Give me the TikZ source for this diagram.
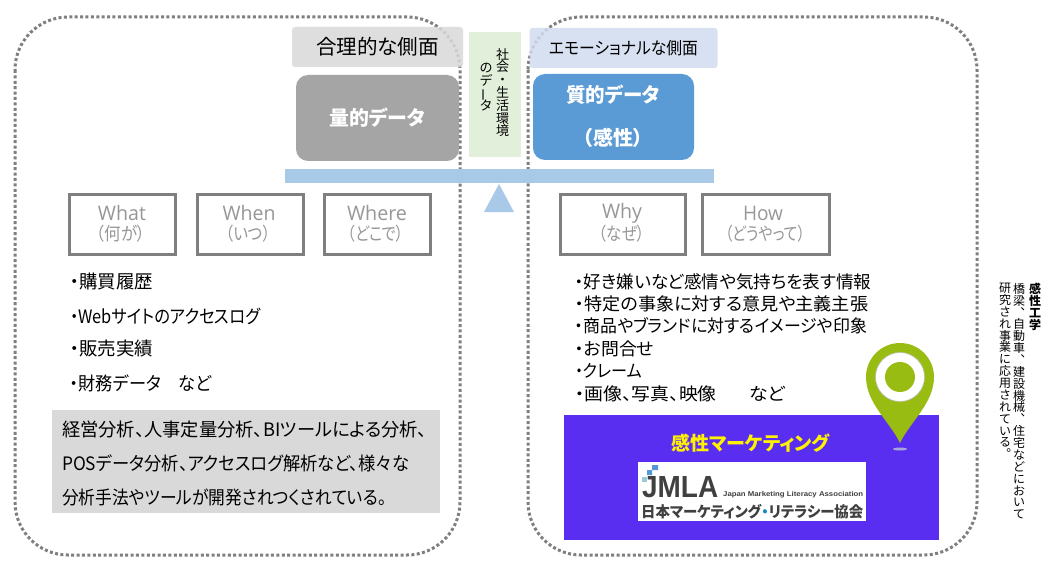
\documentclass[tikz,border=0pt]{standalone}
\usepackage{fontspec}
\usepackage{graphicx}
\setmainfont[RawFeature=+palt]{Noto Sans CJK JP}
\newfontfamily\vfont{Noto Sans CJK JP}
\newfontfamily\lat{Liberation Sans}
\newfontfamily\wlat{Open Sans}
\newcommand{\fw}[2]{\resizebox{#1pt}{\height}{#2}}
\newcommand{\vbar}{\rotatebox[origin=c]{90}{ー}}
\newcommand{\nols}{\lineskiplimit=-100pt\relax}
\definecolor{wgray}{HTML}{7F7F7F}
\definecolor{wtxt}{HTML}{979797}
\definecolor{pur}{HTML}{5A2EF0}
\definecolor{pincol}{HTML}{99BC12}
\definecolor{bar}{HTML}{A9C9E8}
\definecolor{qblue}{HTML}{5B9BD5}
\definecolor{qgrey}{HTML}{A5A5A5}
\definecolor{lgrey}{HTML}{D9D9D9}
\definecolor{lblue}{HTML}{D2DCEF}
\definecolor{lgreen}{HTML}{E2EFDA}
\definecolor{dotc}{HTML}{7F7F7F}
\tikzset{
  dotbox/.style={draw=dotc,line width=3pt,dash pattern=on 3pt off 2.4pt,rounded corners=53pt},
  wbox/.style={draw=wgray,line width=3pt,fill=white,inner sep=0pt},
  wtext/.style={text=wtxt,font=\wlat\fontsize{20}{22}\selectfont,inner sep=0pt},
  wjp/.style={text=wtxt,font=\fontsize{18}{21}\selectfont,inner sep=0pt},
  item/.style={anchor=west,inner sep=0pt,font=\fontsize{17.5}{20}\selectfont,text=black},
  itemb/.style={anchor=west,inner sep=0pt,font=\fontsize{18.5}{21}\selectfont,text=black},
  vtext/.style={anchor=north,align=center,inner sep=0pt,font=\vfont\fontsize{12}{11.87}\selectfont\nols},
  vbold/.style={anchor=north,align=center,inner sep=0pt,font=\vfont\bfseries\fontsize{12}{11.87}\selectfont\nols},
  vsoc/.style={anchor=north,align=center,inner sep=0pt,font=\vfont\fontsize{13}{12.8}\selectfont\nols},
  blk/.style={inner sep=0pt,minimum width=0pt}
}
\begin{document}
\begin{tikzpicture}[x=1pt,y=-1pt]
\useasboundingbox (0,0) rectangle (1054,572);
\fill[white] (0,0) rectangle (1054,572);
% dotted frames
\draw[dotbox] (15,17) rectangle (460,555);
\draw[dotbox] (528,17) rectangle (977,555);
% labels
\node[blk,fill=lgrey,fill opacity=.85,rounded corners=3pt,minimum width=171pt,minimum height=40pt,text opacity=1] (lgo) at (377.5,47) {\fontsize{20.5}{24}\selectfont\fw{123}{合理的な側面}};
\node[blk,fill=lblue,fill opacity=.85,rounded corners=3pt,minimum width=188pt,minimum height=40pt,text opacity=1] (emo) at (623.5,48) {\fontsize{17}{20}\selectfont\fw{149}{エモーショナルな側面}};
\node[blk,fill=qgrey,rounded corners=12pt,minimum width=163pt,minimum height=86pt,text=white,font=\bfseries\fontsize{20}{24}\selectfont] (quant) at (377.5,118) {\fw{96}{量的データ}};
\node[blk,fill=qblue,rounded corners=12pt,minimum width=161pt,minimum height=86pt] (qual) at (613.5,117) {};
\node[blk,text=white,font=\bfseries\fontsize{20}{24}\selectfont] (qual1) at (613,95) {\fw{94}{質的データ}};
\node[blk,text=white,font=\bfseries\fontsize{20}{24}\selectfont] (qual2) at (613,138) {\fw{60}{（感性）}};
\node[blk,fill=lgreen,minimum width=52pt,minimum height=125pt] (soc) at (495,94.5) {};
\node[vsoc] (soc1) at (502.7,48) {社\\会\\・\\生\\活\\環\\境};
\node[vsoc] (soc2) at (486,63) {の\\デ\\\vbar\\タ};
% balance
\node[blk,fill=bar,minimum width=429pt,minimum height=14pt] (beam) at (499.5,176) {};
\fill[bar] (484,212) -- (499,184) -- (514,212) -- cycle;
% w boxes
\node[wbox,minimum width=106pt,minimum height=59pt] (what) at (122,224.5) {};
\node[wbox,minimum width=106pt,minimum height=59pt] (when) at (250,224.5) {};
\node[wbox,minimum width=106pt,minimum height=59pt] (where) at (377,224.5) {};
\node[wbox,minimum width=125pt,minimum height=59pt] (why) at (622.5,224.5) {};
\node[wbox,minimum width=127pt,minimum height=59pt] (how) at (765.5,224.5) {};
\node[wtext] (t1a) at (122,213) {\fw{48}{What}};
\node[wjp] (t1b) at (121,234) {\fw{49}{（何が）}};
\node[wtext] (t2a) at (249,213) {\fw{53}{When}};
\node[wjp] (t2b) at (248,234) {\fw{45}{（いつ）}};
\node[wtext] (t3a) at (377,213) {\fw{60}{Where}};
\node[wjp] (t3b) at (376,234) {\fw{56}{（どこで）}};
\node[wtext] (t4a) at (622,213) {\fw{40}{Why}};
\node[wjp] (t4b) at (622,234) {\fw{46}{（なぜ）}};
\node[wtext] (t5a) at (763,213) {\fw{40}{How}};
\node[wjp] (t5b) at (765,234) {\fw{80}{（どうやって）}};
% left list
\node[itemb] (l1) at (70,282) {\fw{83}{・購買履歴}};
\node[itemb] (l2) at (70,316) {\fw{190}{・Webサイトのアクセスログ}};
\node[itemb] (l3) at (70,349) {\fw{83}{・販売実績}};
\node[itemb] (l4) at (70,383) {\fw{141}{・財務データ　など}};
% grey box
\node[blk,fill=lgrey,minimum width=388pt,minimum height=103pt] (grey) at (246,461.5) {};
\node[itemb] (g1) at (62,429) {\fw{365}{経営分析、人事定量分析、BIツールによる分析、}};
\node[itemb] (g2) at (62,463) {\fw{347}{POSデータ分析、アクセスログ解析など、様々な}};
\node[itemb] (g3) at (62,497) {\fw{324}{分析手法やツールが開発されつくされている。}};
% right list
\node[item] (r1) at (575,282) {\fw{296}{・好き嫌いなど感情や気持ちを表す情報}};
\node[item] (r2) at (575,304) {\fw{293}{・特定の事象に対する意見や主義主張}};
\node[item] (r3) at (575,326) {\fw{292}{・商品やブランドに対するイメージや印象}};
\node[item] (r4) at (575,349) {\fw{79}{・お問合せ}};
\node[item] (r5) at (575,371) {\fw{67}{・クレーム}};
\node[item] (r6) at (575,394) {\fw{210}{・画像、写真、映像\hspace{30pt}など}};
% purple
\node[blk,fill=pur,minimum width=375pt,minimum height=125pt] (purple) at (751.5,477.5) {};
\node[blk,text=yellow,font=\bfseries\fontsize{19}{22}\selectfont] (kansei) at (750.5,443) {\fw{159}{感性マーケティング}};
\node[blk,fill=white,minimum width=228pt,minimum height=59pt] (logo) at (752,491.5) {};
\fill[cyan!60!blue!70] (652,465) rectangle (658,470) (647,470) rectangle (652,475);
\fill[cyan!50!gray!60] (642,477) rectangle (647,482);
\node[blk,anchor=west,text=black!75,font=\lat\bfseries\fontsize{30}{30}\selectfont] (jm) at (642,487.5) {\resizebox{76pt}{21pt}{JMLA}};
\node[blk,anchor=west,text=black!75,font=\lat\bfseries\fontsize{7}{8}\selectfont] (jp) at (723,495) {\fw{140}{Japan Marketing Literacy Association}};
\node[blk,anchor=west,text=black!75,font=\bfseries\fontsize{15}{18}\selectfont] (jn) at (641,512) {\fw{222}{日本マーケティング\textcolor{cyan!70!blue}{・}リテラシー協会}};
% pin
\fill[gray!60!blue!50] (900,449) ellipse (7pt and 1.5pt);
\fill[pincol] (900,443) .. controls (890,422) and (866,403) .. (866,377) arc[start angle=180,end angle=360,radius=34] .. controls (934,403) and (910,422) .. (900,443) -- cycle;
\fill[white,draw=gray!50,line width=.6pt] (900,377) circle (24.5pt);
\fill[pincol] (900,377) circle (15pt);
% note
\node[vbold] (n1) at (1035,283) {感\\性\\工\\学};
\node[vtext] (n2) at (1019,283) {橋\\梁\\︑\\自\\動\\車\\︑\\建\\設\\機\\械\\︑\\住\\宅\\な\\ど\\に\\お\\い\\て};
\node[vtext] (n3) at (1005,283) {研\\究\\さ\\れ\\事\\業\\に\\応\\用\\さ\\れ\\て\\い\\る\\︒};
\end{tikzpicture}
\end{document}
